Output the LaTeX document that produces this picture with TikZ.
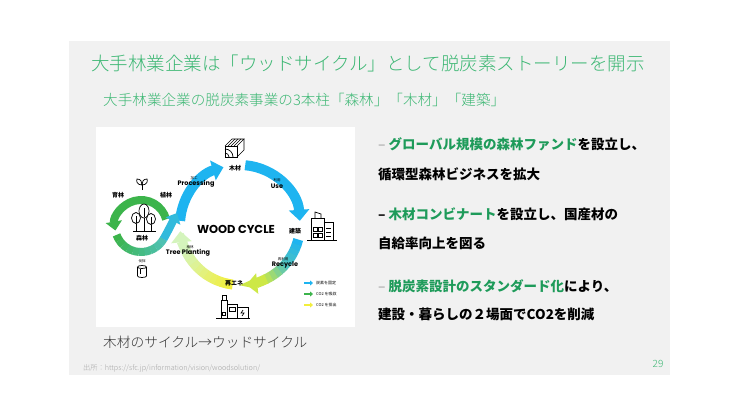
\documentclass[tikz,border=0pt]{standalone}
\usepackage{fontspec}
\setmainfont{Noto Sans CJK JP}
\IfFontExistsTF{Noto Sans CJK JP Light}
  {\newfontfamily\lightfont{Noto Sans CJK JP Light}}
  {\newfontfamily\lightfont{Noto Sans CJK JP}}
\newfontfamily\popfont{Poppins}
\usepackage{tikz}
\usetikzlibrary{arrows.meta}
\definecolor{slidegray}{RGB}{241,241,241}
\definecolor{headgreen}{RGB}{60,183,115}
\definecolor{leafgreen}{RGB}{30,155,90}
\definecolor{dashgray}{RGB}{190,190,190}
\definecolor{blueband}{RGB}{30,180,240}
\definecolor{tealband}{RGB}{80,195,190}
\definecolor{limeband}{RGB}{205,232,70}
\definecolor{yellowband}{RGB}{242,238,60}
\definecolor{paleband}{RGB}{212,244,188}
\definecolor{greenband}{RGB}{60,180,75}

\tikzset{
  headline/.style={anchor=west, inner sep=0, text=headgreen, font=\lightfont\fontsize{18.5}{18.5}\selectfont},
  subhead/.style={anchor=west, inner sep=0, text=headgreen, font=\lightfont\fontsize{14.6}{14.6}\selectfont},
  pointtext/.style={anchor=west, inner sep=0, font=\bfseries\fontsize{13.5}{13.5}\selectfont},
  band/.style={line width=10pt},
  loopband/.style={line width=8pt},
  bandtip/.style={-{Triangle[width=20pt,length=11pt]}},
  looptip/.style={-{Triangle[width=16pt,length=9pt]}},
  icon/.style={line width=0.7pt, black},
  jlab/.style={inner sep=0, font=\bfseries\fontsize{6}{6}\selectfont},
  minilab/.style={inner sep=0, font=\fontsize{3.5}{3.5}\selectfont},
  elab/.style={inner sep=0, font=\popfont\bfseries\fontsize{6.5}{6.5}\selectfont},
  keylab/.style={anchor=west, inner sep=0, font=\fontsize{4}{4}\selectfont},
}

\begin{document}
\begin{tikzpicture}[x=1pt,y=1pt]
  \useasboundingbox (0,0) rectangle (739,416);
  \fill[slidegray] (69,41) rectangle (670,375);
  \fill[white] (96,89) rectangle (355,289);

  % headings
  \node[headline] (head) at (91,353) {大手林業企業は「ウッドサイクル」として脱炭素ストーリーを開示};
  \node[subhead] (sub) at (103,316) {大手林業企業の脱炭素事業の3本柱「森林」「木材」「建築」};

  % big cycle
  \coordinate (cyc) at (240,191);
  \draw[band, bandtip, blueband] ([shift={(176:60)}]cyc) arc[start angle=176, end angle=106, radius=60];
  \draw[band, bandtip, blueband] ([shift={(85:60)}]cyc) arc[start angle=85, end angle=4, radius=60];
  \foreach \i in {0,...,4} {
    \pgfmathsetmacro\segA{-14-5*\i}
    \pgfmathtruncatemacro\mx{100-20*\i}
    \draw[band, draw=blueband!\mx!tealband] ([shift={(\segA:60)}]cyc) arc[start angle=\segA, delta angle=-5.6, radius=60];
  }
  \foreach \i in {0,...,4} {
    \pgfmathsetmacro\segA{-39-5*\i}
    \pgfmathtruncatemacro\mx{100-20*\i}
    \draw[band, draw=tealband!\mx!limeband] ([shift={(\segA:60)}]cyc) arc[start angle=\segA, delta angle=-5.6, radius=60];
  }
  \draw[band, bandtip, limeband] ([shift={(-64:60)}]cyc) arc[start angle=-64, end angle=-84, radius=60];
  \foreach \i in {0,...,9} {
    \pgfmathsetmacro\segA{-97-5.5*\i}
    \pgfmathtruncatemacro\mx{100-10*\i}
    \draw[band, draw=yellowband!\mx!paleband] ([shift={(\segA:60)}]cyc) arc[start angle=\segA, delta angle=-6, radius=60];
  }
  \draw[band, bandtip, paleband] ([shift={(-152:60)}]cyc) arc[start angle=-152, end angle=-174, radius=60];

  % forest loop
  \coordinate (forest) at (141,190);
  \draw[loopband, looptip, greenband] ([shift={(15:26)}]forest) arc[start angle=15, end angle=190, radius=26];
  \foreach \i in {0,...,9} {
    \pgfmathsetmacro\segA{200+13*\i}
    \pgfmathtruncatemacro\mx{100-10*\i}
    \draw[loopband, draw=greenband!\mx!tealband] ([shift={(\segA:26)}]forest) arc[start angle=\segA, delta angle=13.6, radius=26];
  }
  \coordinate (tailend) at (177,203);
  \draw[loopband, looptip, draw=tealband!40!blueband] ([shift={(330:26)}]forest) .. controls (168.5,185.7) and (172.5,194) .. (tailend);

  % icons
  \draw[icon] (225,259) rectangle (237,270);
  \draw[icon] (225,270) -- (232,277) -- (244,277) -- (237,270);
  \draw[icon] (237,259) -- (244,266) -- (244,277);
  \foreach \s in {3,6,9} \draw[icon] (225+\s,270) -- (232+\s,277);
  \draw[icon] (225,263) arc[start angle=90, end angle=0, radius=4];
  \draw[icon] (225,267) arc[start angle=90, end angle=0, radius=8];

  \draw[icon] (307,176) -- (337,176);
  \draw[icon] (311,176) rectangle (324,198);
  \draw[icon] (315,198) -- (315,204) -- (321,202) -- (321,198);
  \draw[icon] (324,176) rectangle (333,194);
  \draw[icon] (313,179) rectangle (317,183);
  \draw[icon] (318,179) rectangle (322,183);
  \draw[icon] (313,185) rectangle (317,189);
  \draw[icon] (318,185) rectangle (322,189);
  \foreach \h in {180,184,188} \draw[icon] (326,\h) -- (331,\h);

  \draw[icon] (216,98) -- (250,98);
  \draw[icon] (221,98) rectangle (227,116);
  \draw[icon] (222,116) -- (222,121) -- (226,121) -- (226,116);
  \draw[icon] (222,101) rectangle (225,104);
  \draw[icon] (227,98) rectangle (237,112);
  \draw[icon] (229,105) rectangle (235,109);
  \draw[icon] (237,98) rectangle (248,109);
  \draw[icon] (243,106) -- (241,103) -- (244,103) -- (242,100);

  \draw[icon] (133,185) -- (156,185);
  \draw[icon] (144,198) -- (144,185);
  \draw[icon, fill=white] (144,205) ellipse[x radius=5, y radius=7];
  \draw[icon] (136,192.5) -- (136,185);
  \draw[icon, fill=white] (136,198) ellipse[x radius=4.5, y radius=5.5];
  \draw[icon] (151,191.5) -- (151,185);
  \draw[icon, fill=white] (151,197) ellipse[x radius=4.5, y radius=5.5];
  \draw[icon] (144,199) -- (144,208);
  \draw[icon] (136,193) -- (136,200);
  \draw[icon] (151,192) -- (151,199);

  \draw[icon] (142,226) -- (142,232);
  \draw[icon] (142,231) .. controls (137,231) and (136,235) .. (137,237) .. controls (141,237) and (142,234) .. (142,231);
  \draw[icon] (142,231) .. controls (147,231) and (148,235) .. (147,237) .. controls (143,237) and (142,234) .. (142,231);

  \draw[icon] (137.5,149) -- (137.5,140) arc[start angle=180, end angle=360, x radius=4.5, y radius=1.5] -- (146.5,149);
  \draw[icon] (142,149) ellipse[x radius=4.5, y radius=1.5];
  \draw[icon] (140,147) -- (140,142);

  % labels
  \node[inner sep=0, font=\popfont\bfseries\fontsize{11.5}{11.5}\selectfont] (wood) at (236,187) {WOOD CYCLE};
  \node[jlab] (timber) at (235,248) {木材};
  \node[jlab] (build) at (295,185) {建築};
  \node[jlab] (energy) at (234,133) {再エネ};
  \node[jlab] (tending) at (118,221) {育林};
  \node[jlab] (plant) at (166,221) {植林};
  \node[jlab] (woods) at (142,178) {森林};
  \node[elab] (proc) at (196,232) {Processing};
  \node[minilab] (procj) at (194,238) {加工};
  \node[elab] (use) at (277,230) {Use};
  \node[minilab] (usej) at (277,236) {利用};
  \node[elab] (recy) at (285,151) {Recycle};
  \node[minilab] (recyj) at (283,157) {再利用};
  \node[elab] (tree) at (188,163) {Tree Planting};
  \node[minilab] (treej) at (190,169) {植林};
  \node[minilab] (cut) at (142,155) {伐採};

  % legend
  \coordinate (keyA) at (304,133);
  \coordinate (keyB) at (304,122);
  \coordinate (keyC) at (304,111);
  \draw[line width=2.5pt, -{Triangle[width=5pt,length=3pt]}, blueband] (keyA) -- ++(9,0) coordinate (keyAe);
  \draw[line width=2.5pt, -{Triangle[width=5pt,length=3pt]}, greenband] (keyB) -- ++(9,0) coordinate (keyBe);
  \draw[line width=2.5pt, -{Triangle[width=5pt,length=3pt]}, yellowband] (keyC) -- ++(9,0) coordinate (keyCe);
  \node[keylab] (keyAl) at ([xshift=3pt]keyAe) {炭素を固定};
  \node[keylab] (keyBl) at ([xshift=3pt]keyBe) {CO2 を吸収};
  \node[keylab] (keyCl) at ([xshift=3pt]keyCe) {CO2 を排出};

  % points on the right
  \node[pointtext] (fund) at (378,272) {\textcolor{dashgray}{–} \textcolor{leafgreen}{グローバル規模の森林ファンド}を設立し、};
  \node[pointtext] (fund2) at (378,242) {循環型森林ビジネスを拡大};
  \node[pointtext] (combi) at (378,202) {– \textcolor{leafgreen}{木材コンビナート}を設立し、国産材の};
  \node[pointtext] (combi2) at (378,173) {自給率向上を図る};
  \node[pointtext] (design) at (378,130) {\textcolor{dashgray}{–} \textcolor{leafgreen}{脱炭素設計のスタンダード化}により、};
  \node[pointtext] (design2) at (378,102) {建設・暮らしの２場面でCO2を削減};

  % foot
  \node[anchor=west, inner sep=0, text=black!80, font=\lightfont\fontsize{13.7}{13.7}\selectfont] (caption) at (103,74) {木材のサイクル→ウッドサイクル};
  \node[anchor=west, inner sep=0, text=black!35, font=\lightfont\fontsize{7.2}{7.2}\selectfont] (source) at (83,48) {出所：https://sfc.jp/information/vision/woodsolution/};
  \node[inner sep=0, text=headgreen, font=\lightfont\fontsize{10}{10}\selectfont] (page) at (658,52) {29};
\end{tikzpicture}
\end{document}
